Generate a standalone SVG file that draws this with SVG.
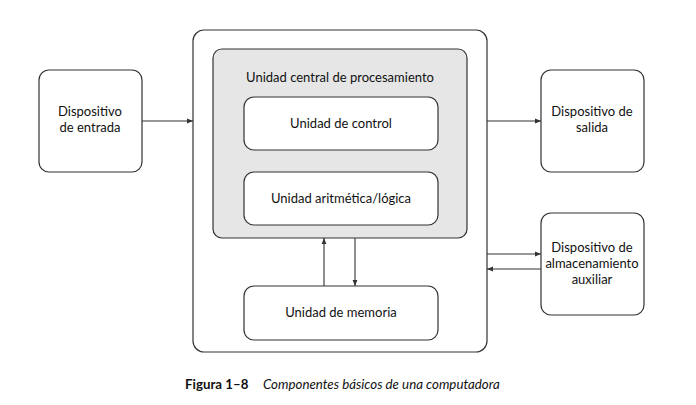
<svg xmlns="http://www.w3.org/2000/svg" width="696" height="405" viewBox="0 0 696 405">
<defs>
<marker id="ah" viewBox="0 0 10 10" refX="10" refY="5" markerWidth="8" markerHeight="6" markerUnits="userSpaceOnUse" orient="auto">
<path d="M0,1 L10,5 L0,9 Z" fill="#333"/>
</marker>
</defs>
<style>
.box{fill:#fff;stroke:#333;stroke-width:1.2}
.cpu{fill:#e6e6e7;stroke:#333;stroke-width:1.2}
.t{font-family:Lato,"Open Sans","Noto Sans",sans-serif;font-size:13px;fill:#111;text-anchor:middle}
.c{stroke:#333;stroke-width:1.1;fill:none;marker-end:url(#ah)}
.cap{font-family:Lato,"Open Sans","Noto Sans",sans-serif;font-size:13.3px;fill:#111}
</style>
<rect width="696" height="405" fill="#fff"/>
<g id="computadora">
<rect class="box" x="193" y="30" width="294" height="322" rx="11"/>
</g>
<g id="cpu">
<rect class="cpu" x="213" y="49" width="254" height="189" rx="9"/>
<text class="t" x="340" y="82">Unidad central de procesamiento</text>
</g>
<g id="control">
<rect class="box" x="244" y="97" width="194" height="53" rx="10"/>
<text class="t" x="341" y="128">Unidad de control</text>
</g>
<g id="alu">
<rect class="box" x="244" y="172" width="194" height="53" rx="10"/>
<text class="t" x="341" y="203">Unidad aritmética/lógica</text>
</g>
<g id="memoria">
<rect class="box" x="244" y="286" width="194" height="54" rx="10"/>
<text class="t" x="341" y="317">Unidad de memoria</text>
</g>
<g id="entrada">
<rect class="box" x="39" y="70" width="103" height="102" rx="10"/>
<text class="t" x="90" y="116">Dispositivo</text>
<text class="t" x="90" y="132">de entrada</text>
</g>
<g id="salida">
<rect class="box" x="541" y="70" width="103" height="102" rx="10"/>
<text class="t" x="592" y="116">Dispositivo de</text>
<text class="t" x="592" y="132">salida</text>
</g>
<g id="almacenamiento">
<rect class="box" x="541" y="213" width="103" height="102" rx="10"/>
<text class="t" x="592" y="252">Dispositivo de</text>
<text class="t" x="592" y="268">almacenamiento</text>
<text class="t" x="592" y="284">auxiliar</text>
</g>
<g id="connectors">
<line class="c" x1="142" y1="121" x2="193" y2="121"/>
<line class="c" x1="487" y1="121" x2="541" y2="121"/>
<line class="c" x1="487" y1="254" x2="541" y2="254"/>
<line class="c" x1="541" y1="269" x2="487" y2="269"/>
<line class="c" x1="324" y1="286" x2="324" y2="238"/>
<line class="c" x1="355" y1="238" x2="355" y2="286"/>
</g>
<g id="caption">
<text class="cap" x="185" y="389" font-weight="bold">Figura 1–8</text>
<text class="cap" x="263" y="389" font-style="italic">Componentes básicos de una computadora</text>
</g>
</svg>
